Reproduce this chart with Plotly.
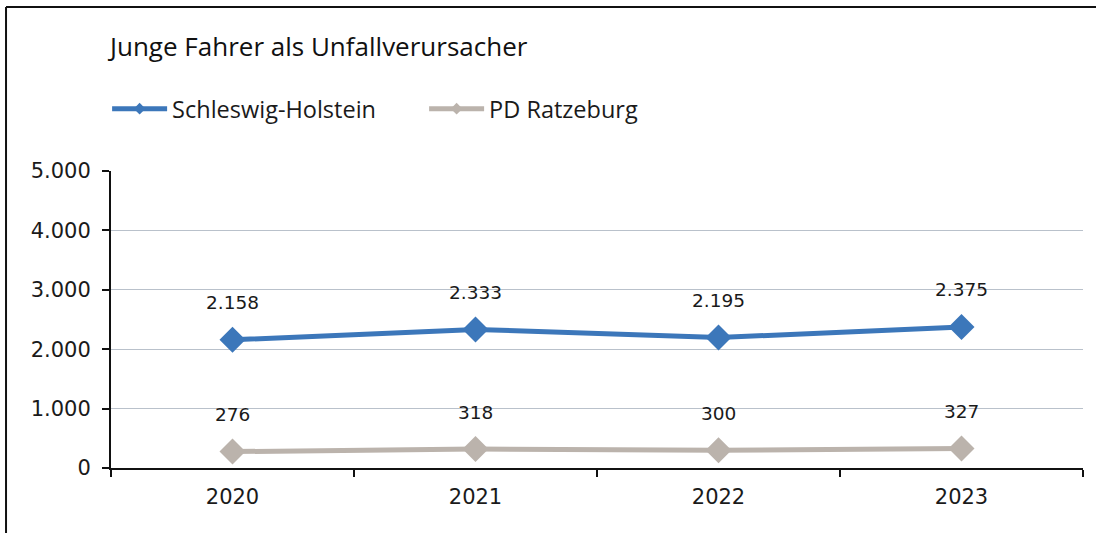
import plotly.graph_objects as go

# Data
years = ["2020", "2021", "2022", "2023"]
schleswig_holstein = [2158, 2333, 2195, 2375]
pd_ratzeburg = [276, 318, 300, 327]

series = [
    ("Schleswig-Holstein", schleswig_holstein, "#3C77BA"),
    ("PD Ratzeburg", pd_ratzeburg, "#BBB3AC"),
]

FONT = "'Open Sans', 'Noto Sans', sans-serif"
NUM_FONT = "'DejaVu Sans', sans-serif"


def de_num(v):
    # German thousands separator
    return f"{v:,}".replace(",", ".")


fig = go.Figure()

for name, values, color in series:
    # actual data line
    fig.add_trace(go.Scatter(
        x=years, y=values,
        mode="lines+markers",
        line=dict(color=color, width=5),
        marker=dict(symbol="diamond", size=20, color=color),
        showlegend=False,
        hoverinfo="x+y",
    ))
    # legend-only entry with small marker
    fig.add_trace(go.Scatter(
        x=[None], y=[None],
        mode="lines+markers",
        name=name,
        line=dict(color=color, width=5),
        marker=dict(symbol="diamond", size=9, color=color),
    ))
    # data labels above points (category index on x)
    for i, v in enumerate(values):
        fig.add_annotation(
            x=i, y=v, text=de_num(v),
            showarrow=False, yshift=37,
            font=dict(family=NUM_FONT, size=18.5, color="#1a1a1a"),
        )

# frame around the chart (left + top border)
fig.add_shape(type="line", xref="paper", yref="paper",
              x0=-0.108, x1=1.02, y0=1.552, y1=1.552,
              line=dict(color="#111", width=2))
fig.add_shape(type="line", xref="paper", yref="paper",
              x0=-0.108, x1=-0.108, y0=1.552, y1=-0.25,
              line=dict(color="#111", width=2))

fig.update_layout(
    width=1096, height=533,
    margin=dict(l=111, r=13, t=171, b=65),
    paper_bgcolor="white",
    plot_bgcolor="white",
    separators=",.",
    font=dict(family=FONT, size=21, color="#1a1a1a"),
    title=dict(
        text="Junge Fahrer als Unfallverursacher",
        x=110 / 1096, xanchor="left",
        y=1 - 47 / 533, yanchor="middle",
        font=dict(family=FONT, size=26, color="#111"),
    ),
    legend=dict(
        orientation="h",
        x=-0.004, xanchor="left",
        y=1.209, yanchor="middle",
        font=dict(family=FONT, size=23.5, color="#1a1a1a"),
        entrywidth=247, entrywidthmode="pixels",
        itemwidth=55,
        bgcolor="rgba(0,0,0,0)",
    ),
    xaxis=dict(
        type="category",
        range=[-0.5, 3.5],
        showline=True, linecolor="#111", linewidth=2,
        ticks="outside", tickson="boundaries", ticklen=7,
        tickcolor="#111", tickwidth=2,
        showgrid=False, zeroline=False,
        ticklabelstandoff=9,
        tickfont=dict(family=NUM_FONT, size=21),
    ),
    yaxis=dict(
        range=[0, 5000],
        dtick=1000,
        tickformat=",d",
        showline=True, linecolor="#111", linewidth=2,
        ticks="outside", ticklen=7, tickcolor="#111", tickwidth=2,
        showgrid=True, gridcolor="#B9C1CB", gridwidth=1,
        zeroline=False,
        ticklabelstandoff=7,
        tickfont=dict(family=NUM_FONT, size=21),
    ),
)

fig.write_html("out.html", config={"displayModeBar": False},
               post_script="document.body.style.margin='0';")
